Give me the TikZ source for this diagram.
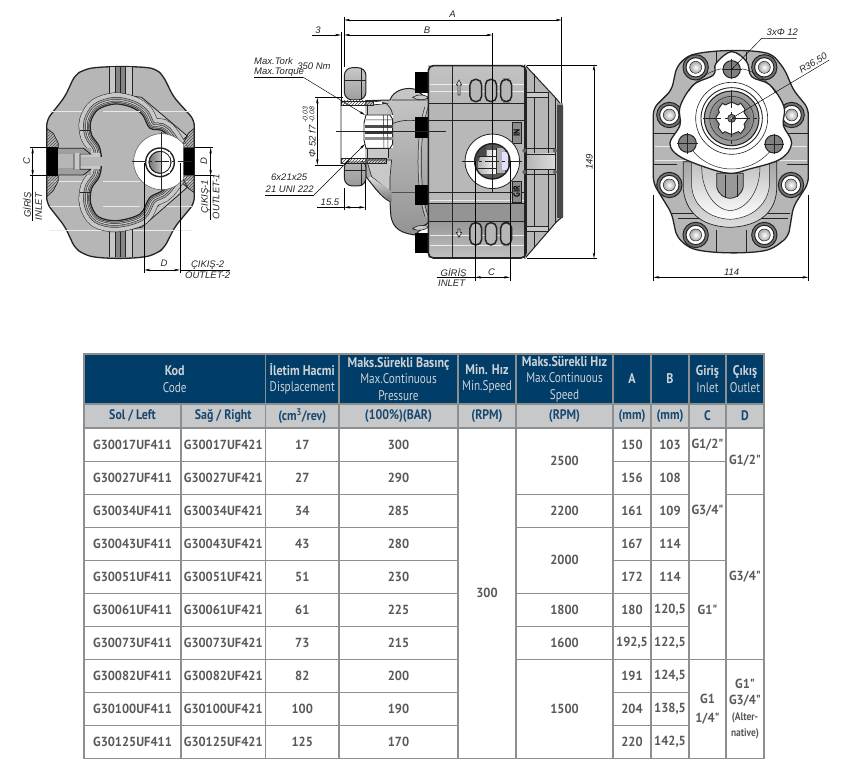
\documentclass[tikz,border=0pt]{standalone}
\usepackage{fontspec}
\usetikzlibrary{arrows.meta,patterns,calc}
\setmainfont{Liberation Sans}
\newfontfamily\din[FakeStretch=.86]{PT Sans}
\newfontfamily\dinn[FakeStretch=.8]{PT Sans}
\newfontfamily\dind[FakeStretch=.95]{PT Sans}
\definecolor{hdblue}{RGB}{0,61,104}
\definecolor{subgrey}{RGB}{198,200,202}
\definecolor{subtxt}{RGB}{24,72,112}
\definecolor{hdtxt}{RGB}{205,210,214}
\definecolor{datatxt}{RGB}{88,89,91}
\definecolor{rule}{RGB}{140,142,144}
\definecolor{body}{RGB}{182,182,182}
\definecolor{bodyl}{RGB}{200,200,200}
\definecolor{bodyd}{RGB}{150,150,150}
\definecolor{ink}{RGB}{35,35,35}
\newcommand{\lt}{\dinn\mdseries}
\tikzset{
  >={Stealth[length=6pt,width=2.4pt]},
  dim/.style={draw=black,line width=.45pt},
  dimtxt/.style={font=\fontsize{9.5}{10}\selectfont\itshape,inner sep=0pt,text=black!85},
  outl/.style={draw=ink,line width=1pt},
  cellbase/.style={inner sep=0pt,outer sep=0pt,align=center,draw=rule,line width=1.1pt},
  headbold/.style={cellbase,fill=hdblue,text=hdtxt,font=\din\bfseries\fontsize{14}{16.6}\selectfont},
  subcell/.style={cellbase,fill=subgrey,text=subtxt,font=\din\bfseries\fontsize{13.8}{15}\selectfont},
  datacell/.style={cellbase,fill=white,text=datatxt,font=\dind\bfseries\fontsize{13.2}{16}\selectfont},
  smallcell/.style={cellbase,fill=white,text=datatxt,font=\dind\bfseries\fontsize{13.2}{19}\selectfont},
}
\newcommand{\tcell}[7]{%
  \pgfmathsetmacro\cw{#5-#3}\pgfmathsetmacro\ch{#6-#4}%
  \node[#1,minimum width=\cw pt,minimum height=\ch pt] (#2) at ({(#3+#5)/2},{(#4+#6)/2}) {#7};}
\newcommand{\boltd}[2]{%
  \fill[black!55] (#1,#2) circle (38);
  \draw[ink,line width=1pt] (#1,#2) circle (38);
  \fill[white,draw=ink,line width=1pt] (#1,#2) circle (29);
  \shade[inner color=white,outer color=black!35,draw=ink,line width=.5pt] (#1,#2) circle (18);}
\newcommand{\slotd}[4]{\draw[ink,line width=1.5pt,fill=body,rounded corners=5.5pt] (#1,#3) rectangle (#2,#4);}
\begin{document}
\begin{tikzpicture}[x=1pt,y=-1pt]
\useasboundingbox (0,0) rectangle (862,772);
\fill[white] (0,0) rectangle (862,772);

%% ------------ LEFT VIEW (coordinates = 3x zoom)
\begin{scope}[x=.3333pt,y=-.3333pt]
  \path[fill=body,outl,line width=1.3pt,rounded corners=6pt,line join=round]
    (250,210) .. controls (300,198) and (420,198) .. (470,208) -- (490,228) -- (520,290) -- (583,360) -- (583,610) -- (525,680) -- (492,745) -- (470,760)
    .. controls (420,778) and (300,778) .. (250,762) -- (225,745) -- (195,680) -- (140,610) -- (140,360) -- (195,290) -- (225,225) -- cycle;
  \foreach \yy in {333,545,620,690} \draw[white!70!body,line width=.6pt] (150,\yy) -- (575,\yy);
  % ribs
  \foreach \ya/\yb in {200/292,684/772}{
    \fill[bodyl] (328,\ya) rectangle (398,\yb);
    \fill[black!48] (347,\ya) rectangle (377,\yb);
    \draw[ink,line width=.7pt] (328,\ya) -- (328,\yb) (347,\ya) -- (347,\yb) (362,\ya) -- (362,\yb) (377,\ya) -- (377,\yb) (398,\ya) -- (398,\yb);
  }
  % diagonal bands
  \draw[ink,line width=.8pt,fill=bodyl,line join=round] (395,288) -- (425,292) -- (562,408) -- (548,420) -- (450,340) -- cycle;
  \draw[ink,line width=.8pt,fill=bodyl,line join=round] (390,688) -- (425,682) -- (562,562) -- (548,550) -- (450,640) -- cycle;
  % bean, concentric strokes
  \def\beanpath{plot[smooth cycle,tension=.55] coordinates {(345,312) (295,328) (272,365) (275,405) (298,440) (305,485) (298,530) (275,565) (272,610) (295,650) (350,662) (420,642) (450,592) (495,565) (540,485) (495,398) (450,385) (428,345) (395,322)}}
  \draw[ink,line width=23pt] \beanpath;
  \draw[bodyl,line width=22pt] \beanpath;
  \draw[ink,line width=14pt] \beanpath;
  \draw[black!35,line width=13pt] \beanpath;
  \draw[ink,line width=10pt] \beanpath;
  \draw[bodyl,line width=9pt] \beanpath;
  \draw[ink,line width=6.4pt] \beanpath;
  \draw[black!30,line width=5.4pt] \beanpath;
  \draw[ink,line width=3.6pt] \beanpath;
  \draw[black!42,line width=2.6pt] \beanpath;
  \draw[ink,line width=1.2pt,fill=body] \beanpath;
  \foreach \yy in {333,545,620} \draw[white!70!body,line width=.6pt] (310,\yy) -- (420,\yy);
  % inlet channel
  \fill[black!38] (172,445) rectangle (272,525);
  \fill[body] (172,462) rectangle (240,505);
  \fill[bodyl] (222,460) rectangle (300,508);
  \fill[body] (240,470) rectangle (310,498);
  \draw[ink,line width=.8pt] (172,445) -- (250,445) -- (272,462) -- (240,462) (172,525) -- (250,525) -- (272,508) -- (240,508) (222,460) -- (222,508) (240,462) -- (240,508);
  \draw[ink,line width=.6pt] (240,392) -- (272,392) (240,578) -- (272,578);
  % hatched wedges and black ports
  \path[pattern=north east lines,pattern color=black!70,draw=ink,line width=.7pt] (140,385) -- (160,400) -- (175,430) -- (175,443) -- (140,443) -- cycle;
  \path[pattern=north east lines,pattern color=black!70,draw=ink,line width=.7pt] (140,590) -- (160,572) -- (175,542) -- (175,527) -- (140,527) -- cycle;
  \path[pattern=north east lines,pattern color=black!70,draw=ink,line width=.7pt] (583,385) -- (565,400) -- (550,430) -- (550,443) -- (583,443) -- cycle;
  \path[pattern=north east lines,pattern color=black!70,draw=ink,line width=.7pt] (583,578) -- (565,565) -- (550,540) -- (550,527) -- (583,527) -- cycle;
  \fill[black] (140,445) rectangle (175,525);
  \fill[black] (550,445) rectangle (583,525);
  % port circle
  \begin{scope}
    \clip (395,380) rectangle (550,590);
    \fill[white] (485,485) circle (84);
    \draw[black!60,line width=.6pt] (485,485) circle (84);
  \end{scope}
  \draw[ink,line width=1.4pt] (480,487) circle (43);
  \shade[left color=black!55,right color=white,draw=ink,line width=.8pt] (480,487) circle (33);
  \fill[white] (482,456) rectangle (510,518);
  \draw[ink,line width=.8pt] (480,487) circle (33);
  \draw[ink,line width=.7pt] (485,395) -- (485,570);
  \draw[ink,line width=.7pt,dash pattern=on 14pt off 3pt on 3pt off 3pt] (395,485) -- (575,485);
  % dimensions
  \draw[dim] (90,443) -- (175,443) (90,527) -- (175,527) (585,443) -- (638,443) (585,527) -- (638,527);
  \draw[dim,<->] (98,443) -- (98,527);
  \draw[dim] (98,527) -- (98,662);
  \draw[dim,<->] (632,443) -- (632,527);
  \draw[dim] (632,527) -- (632,660);
  \draw[dim] (433,490) -- (433,818) (540,490) -- (540,818);
  \draw[dim,<->] (433,810) -- (540,810);
  \draw[dim] (540,810) -- (690,810);
  \node[dimtxt,rotate=90] (dimCl) at (80,483) {C};
  \node[dimtxt,rotate=90] (girisL) at (84,615) {GİRİŞ};
  \node[dimtxt,rotate=90] (inletL) at (116,620) {INLET};
  \node[dimtxt,rotate=90] (dimDr) at (612,483) {D};
  \node[dimtxt,rotate=90] (cikisA) at (617,590) {ÇIKIŞ-1};
  \node[dimtxt,rotate=90] (outletA) at (648,590) {OUTLET-1};
  \node[dimtxt] (dimDb) at (492,790) {D};
  \node[dimtxt] (cikisB) at (623,795) {ÇIKIŞ-2};
  \node[dimtxt] (outletB) at (623,826) {OUTLET-2};
\end{scope}

%% ------------ MIDDLE VIEW
\begin{scope}[shift={(240,0)},x=.3333pt,y=-.3333pt]
  % cone
  \path[fill=body,outl,line join=round] (855,195) -- (950,297) -- (968,320) -- (968,650) -- (950,665) -- (855,775) -- cycle;
  \fill[bodyd] (950,310) rectangle (968,655);
  \fill[black!72] (952,315) rectangle (968,655);
  \draw[ink,line width=.5pt] (882,222) -- (882,745) (925,275) -- (925,695) (945,295) -- (945,670);
  \fill[bodyl] (860,278) rectangle (925,292);
  \fill[bodyl] (860,680) rectangle (925,694);
  \draw[ink,line width=.5pt] (860,278) rectangle (925,292) (860,680) rectangle (925,694);
  \shade[left color=body,right color=black!14] (860,462) rectangle (945,508);
  \draw[ink,line width=.7pt] (855,445) -- (945,445) (855,462) -- (945,462) -- (945,508) -- (855,508) (855,523) -- (945,523);
  % neck
  \path[top color=bodyl,bottom color=black!42,outl,line join=round] (378,302) -- (450,300) .. controls (460,270) and (500,260) .. (525,268) -- (568,300) -- (568,665) -- (525,705) .. controls (490,700) and (455,690) .. (452,640) -- (450,605) .. controls (420,590) and (395,550) .. (378,530) -- cycle;
  \path[fill=bodyl,draw=ink,line width=.6pt] (380,480) -- (455,480) -- (450,530) -- (450,575) -- (395,530) -- cycle;
  \shade[top color=white!60!body,bottom color=black!55] (385,535) .. controls (400,555) and (430,590) .. (455,605) -- (455,575) -- (392,530) -- cycle;
  \draw[ink,line width=.6pt] (455,578) -- (565,578) (455,372) .. controls (480,360) and (510,360) .. (525,362) (455,300) -- (560,300) (520,690) -- (565,670);
  \draw[bodyl,line width=1pt] (560,320) .. controls (530,400) and (530,570) .. (560,650);
  \draw[ink,line width=.5pt] (555,320) .. controls (527,400) and (527,570) .. (555,650) (565,320) .. controls (537,400) and (537,570) .. (565,650);
  % black blocks
  \foreach \ya/\yb in {215/280,352/415,555/615,700/760} \fill[black] (525,\ya) rectangle (565,\yb);
  % lens tips next to the blocks
  \path[fill=bodyl,draw=ink,line width=.6pt] (518,292) .. controls (535,280) and (555,285) .. (566,292) .. controls (555,302) and (530,302) .. (518,292) -- cycle;
  \path[fill=bodyl,draw=ink,line width=.6pt] (518,685) .. controls (535,673) and (555,675) .. (566,680) .. controls (555,692) and (530,695) .. (518,685) -- cycle;
  % main body
  \fill[body] (565,195) rectangle (858,775);
  \shade[top color=black!24,bottom color=black!28] (565,198) rectangle (858,310);
  \fill[bodyl!92!black] (565,360) rectangle (858,600);
  \fill[black!42] (565,612) rectangle (858,665);
  \shade[top color=black!40,bottom color=black!25] (565,665) rectangle (858,772);
  \foreach \yy in {252,275,600,705,735} \draw[white!75!body,line width=.6pt] (570,\yy) -- (855,\yy);
  \draw[ink,line width=.5pt] (565,310) -- (858,310) (565,360) -- (858,360) (565,578) -- (858,578) (565,610) -- (858,610) (565,665) -- (858,665) (637,195) -- (637,775) (853,195) -- (853,775);
  \path[outl,line width=1.6pt,rounded corners=5pt] (565,197) rectangle (858,774);
  % slots and arrows
  \foreach \xa/\xb in {690/725,736/770,782/815}{
    \slotd{\xa}{\xb}{238}{305}
    \slotd{\xa}{\xb}{668}{735}
  }
  \draw[ink,line width=.6pt,fill=black!12] (657,240) -- (665,255) -- (660,255) -- (660,285) -- (654,285) -- (654,255) -- (649,255) -- cycle;
  \draw[ink,line width=.6pt,fill=black!12] (657,712) -- (665,697) -- (660,697) -- (660,687) -- (654,687) -- (654,697) -- (649,697) -- cycle;
  % label plates
  \node[draw=ink,line width=.5pt,fill=black!45,minimum width=21pt,minimum height=9pt,inner sep=0pt,rotate=90,font=\din\bfseries\fontsize{9}{9}\selectfont] (plateIN) at (830,398) {IN};
  \node[draw=ink,line width=.5pt,fill=black!45,minimum width=21pt,minimum height=9pt,inner sep=0pt,rotate=90,font=\din\bfseries\fontsize{9}{9}\selectfont] (plateGIR) at (830,575) {GIR};
  % small bolts on the joint
  \foreach \yy in {452,516} {\fill[black!60] (853,\yy) circle (6); \fill[black!60] (945,\yy) circle (6);}
  % flange
  \path[top color=bodyl,bottom color=black!38,outl,rounded corners=8pt] (313,203) -- (378,203) -- (378,300) -- (313,300) -- cycle;
  \path[top color=black!28,bottom color=black!40,outl,rounded corners=8pt] (313,480) -- (378,480) -- (378,558) -- (313,558) -- cycle;
  \draw[ink,line width=.4pt] (365,203) -- (365,300) (365,490) -- (365,558) (313,510) -- (378,510) (313,240) -- (378,240);
  % bore
  \fill[white] (303,300) rectangle (376,482);
  \fill[bodyl] (376,315) rectangle (445,475);
  \path[pattern=north east lines,pattern color=black!75,draw=ink,line width=.7pt] (303,303) -- (400,303) -- (400,315) -- (303,315) -- cycle;
  \draw[ink,line width=.7pt] (400,303) -- (440,310) -- (400,315);
  \fill[white] (402,306) rectangle (425,313);
  \path[pattern=north east lines,pattern color=black!75,draw=ink,line width=.7pt] (303,475) -- (440,475) -- (440,490) -- (303,490) -- cycle;
  \draw[ink,line width=.7pt] (440,312) .. controls (455,325) and (458,340) .. (458,350) (303,300) -- (303,492);
  \draw[ink,line width=.5pt] (382,315) -- (382,345) (382,445) -- (382,475) (445,445) -- (445,475);
  % shaft
  \fill[white] (375,345) rectangle (458,445);
  \draw[ink,line width=.9pt] (378,345) -- (450,345) -- (458,358) -- (458,432) -- (450,445) -- (378,445) -- (372,420) -- (372,370) -- cycle;
  \fill[black!70] (376,374) rectangle (458,384);
  \fill[black!78] (376,392) rectangle (458,402);
  \fill[black!45] (376,412) rectangle (458,420);
  \draw[ink,line width=.5pt] (378,360) -- (458,360) (430,345) -- (432,445) (442,345) -- (444,445);
  % port circle
  \fill[white,draw=ink,line width=.8pt] (757,484) circle (82);
  \fill[black!65] (757,484) circle (53);
  \shade[left color=black!30,right color=white] (715,452) rectangle (770,520);
  \fill[black!72] (705,484) arc[start angle=180,end angle=250,radius=52] -- (740,470) -- (720,470) -- (716,484) -- cycle;
  \fill[black!30] (770,445) rectangle (795,520);
  \fill[blue!12] (785,455) rectangle (803,510);
  \draw[ink,line width=.7pt] (770,445) -- (770,522) (715,505) -- (770,505) (715,470) -- (770,470);
  \draw[ink,line width=1.4pt] (757,484) circle (53);
  \draw[ink,line width=.5pt,dash pattern=on 14pt off 3pt on 3pt off 3pt] (665,484) -- (850,484);
  \draw[ink,line width=.5pt] (757,405) -- (757,575);
  % long centre line
  \draw[ink,line width=.5pt] (288,393) -- (618,393);
  % dimensions
  \draw[dim] (313,50) -- (313,200) (965,50) -- (965,310) (303,95) -- (303,300) (757,100) -- (757,405);
  \draw[dim,<->] (313,60) -- (965,60);
  \draw[dim,<->] (313,105) -- (757,105);
  \draw[dim,->] (215,105) -- (303,105);
  \draw[dim] (225,293) -- (310,293) (225,495) -- (310,495);
  \draw[dim,<->] (232,293) -- (232,495);
  \draw[dim] (313,565) -- (313,630) (375,540) -- (375,630);
  \draw[dim] (232,622) -- (313,622);
  \draw[dim,<->] (313,622) -- (375,622);
  \draw[dim] (860,195) -- (1072,195) (860,775) -- (1072,775);
  \draw[dim,<->] (1062,195) -- (1062,775);
  \draw[dim] (705,484) -- (705,842) (810,484) -- (810,842);
  \draw[dim] (590,832) -- (705,832);
  \draw[dim,<->] (705,832) -- (810,832);
  \draw[dim] (42,232) -- (190,232);
  \draw[dim,->] (190,232) -- (375,345);
  \draw[dim] (75,585) -- (222,585);
  \draw[dim,->] (222,585) -- (375,432);
  \node[dimtxt] (dimA) at (638,42) {A};
  \node[dimtxt] (dimB) at (561,90) {B};
  \node[dimtxt] (dimThree) at (234,90) {3};
  \node[dimtxt,anchor=west] (tork) at (42,182) {Max.Tork};
  \node[dimtxt,anchor=west] (torque) at (42,218) {Max.Torque};
  \node[dimtxt] (nm) at (222,200) {350 Nm};
  \node[dimtxt,anchor=east] (spla) at (202,532) {6x21x25};
  \node[dimtxt,anchor=east] (splb) at (222,569) {21 UNI 222};
  \node[dimtxt] (dimFifteen) at (270,608) {15.5};
  \node[dimtxt,rotate=90] (dimDia) at (217,424) {Φ 52 f7};
  \node[dimtxt,rotate=90,font=\fontsize{7}{8}\selectfont\itshape] (tolA) at (196,345) {-0.03};
  \node[dimtxt,rotate=90,font=\fontsize{7}{8}\selectfont\itshape] (tolB) at (216,345) {-0.08};
  \node[dimtxt,rotate=90] (dimH) at (1048,485) {149};
  \node[dimtxt] (dimC) at (755,818) {C};
  \node[dimtxt] (girisM) at (641,820) {GİRİŞ};
  \node[dimtxt] (inletM) at (635,851) {INLET};
\end{scope}

%% ------------ RIGHT VIEW
\begin{scope}[shift={(630,10)},x=.3333pt,y=-.3333pt]
  \path[fill=body,outl,line width=1.3pt,rounded corners=6pt,line join=round]
    (172,138) .. controls (250,118) and (370,118) .. (430,135) -- (465,180) -- (490,240) -- (535,295) -- (535,520) -- (490,590) -- (475,680) -- (430,715)
    .. controls (370,732) and (240,732) .. (175,712) -- (140,680) -- (125,610) -- (70,520) -- (70,295) -- (125,240) -- (140,170) -- cycle;
  \foreach \yy in {410,450} \draw[white!70!body,line width=.6pt] (75,\yy) -- (530,\yy);
  \draw[ink,line width=.5pt] (70,370) -- (150,370) (460,370) -- (535,370) (125,610) -- (480,610) (145,625) -- (475,625) (70,462) -- (140,462) (470,462) -- (535,462) (258,660) -- (258,725) (348,660) -- (348,725) (258,125) -- (258,170) (348,125) -- (348,170);
  % bowl
  \path[draw=ink,line width=.7pt,top color=black!35,bottom color=white!55!body] (160,455) -- (440,455) -- (440,540) .. controls (435,620) and (370,650) .. (300,652) .. controls (230,650) and (170,620) .. (160,540) -- cycle;
  \path[draw=ink,line width=.5pt,top color=black!25,bottom color=white] (185,455) -- (418,455) -- (418,530) .. controls (410,590) and (360,625) .. (300,628) .. controls (240,625) and (190,590) .. (185,530) -- cycle;
  \draw[ink,line width=.5pt] (215,470) .. controls (215,550) and (260,600) .. (300,602) .. controls (345,600) and (390,550) .. (390,470);
  \path[draw=ink,line width=.8pt,fill=black!40] (260,490) -- (340,490) -- (340,530) .. controls (335,555) and (315,565) .. (300,565) .. controls (285,565) and (265,555) .. (260,530) -- cycle;
  \draw[ink,line width=.6pt] (285,495) -- (285,562) (322,495) -- (322,562);
  % bolts
  \boltd{197}{172} \boltd{403}{172} \boltd{118}{315} \boltd{485}{315}
  \boltd{118}{525} \boltd{483}{525} \boltd{197}{675} \boltd{403}{675}
  % flange
  \path[fill=white,draw=ink,line width=1.3pt,line join=round] plot[smooth cycle,tension=.6] coordinates {(305,125) (258,160) (250,195) (190,225) (150,290) (150,345) (120,400) (150,440) (245,478) (305,490) (355,478) (450,448) (485,400) (460,345) (462,290) (420,225) (365,200) (350,155)};
  % bolt circle
  \draw[ink,line width=.5pt] (305,325) ++(40:152) arc[start angle=40,end angle=140,radius=152];
  \draw[ink,line width=.5pt] (305,325) ++(212:152) arc[start angle=212,end angle=258,radius=152];
  \draw[ink,line width=.5pt] (305,325) ++(282:152) arc[start angle=282,end angle=330,radius=152];
  % centre
  \draw[ink,line width=.6pt] (305,325) circle (108);
  \draw[ink,line width=.9pt] (305,325) circle (92);
  \shade[inner color=black!70,outer color=black!35,draw=ink,line width=1.1pt] (305,325) circle (82);
  \draw[ink,line width=.5pt] (305,325) circle (66);
  \fill[white,draw=ink,line width=.9pt] plot[smooth cycle,tension=.3] coordinates {(305,277) (325,285) (332,280) (345,298) (342,307) (353,325) (342,343) (345,352) (332,370) (325,365) (305,373) (285,365) (278,370) (265,352) (268,343) (257,325) (268,307) (265,298) (278,280) (285,285)};
  \fill[black!55,draw=ink,line width=.7pt] (305,325) circle (12);
  \fill[black!20] (305,325) circle (4);
  \draw[ink,line width=.6pt,dash pattern=on 18pt off 4pt on 3pt off 4pt] (220,325) -- (390,325) (305,240) -- (305,410);
  % holes
  \foreach \hx/\hy/\hr in {305/178/26,172/400/27,432/402/27}{
    \fill[black!50,draw=ink,line width=1pt] (\hx,\hy) circle (\hr);
    \draw[ink,line width=.5pt] ({\hx-\hr-4},\hy) -- ({\hx+\hr+4},\hy) (\hx,{\hy-\hr-4}) -- (\hx,{\hy+\hr+4});
  }
  % dimensions
  \draw[dim] (70,555) -- (70,812) (535,555) -- (535,812);
  \draw[dim,<->] (70,802) -- (535,802);
  \draw[dim] (305,178) -- (395,85) -- (500,85);
  \draw[dim] (305,325) -- (598,150);
  \node[dimtxt] (dimW) at (305,788) {114};
  \node[dimtxt] (holes) at (457,68) {3xΦ 12};
  \node[dimtxt,rotate=31] (radius) at (550,160) {R36,50};
\end{scope}

%% ------------ TABLE
\tcell{headbold}{hKod}{84}{354}{265.5}{404}{Kod\\\lt Code}
\tcell{headbold}{hDisp}{265.5}{354}{339}{404}{İletim Hacmi\\\lt Displacement}
\tcell{headbold}{hPres}{339}{354}{458}{404}{Maks.Sürekli Basınç\\\lt Max.Continuous\\\lt Pressure}
\tcell{headbold}{hMin}{458}{354}{516}{404}{Min. Hız\\\lt Min.Speed}
\tcell{headbold}{hMax}{516}{354}{613}{404}{Maks.Sürekli Hız\\\lt Max.Continuous\\\lt Speed}
\tcell{headbold}{hA}{613}{354}{651}{404}{A}
\tcell{headbold}{hB}{651}{354}{689}{404}{B}
\tcell{headbold}{hC}{689}{354}{726}{404}{Giriş\\\lt Inlet}
\tcell{headbold}{hD}{726}{354}{764}{404}{Çıkış\\\lt Outlet}
\tcell{subcell}{sL}{84}{404}{181}{428}{Sol / Left}
\tcell{subcell}{sR}{181}{404}{265.5}{428}{Sağ / Right}
\tcell{subcell}{sDisp}{265.5}{404}{339}{428}{(cm\textsuperscript{3}/rev)}
\tcell{subcell}{sPres}{339}{404}{458}{428}{(100\%)(BAR)}
\tcell{subcell}{sMin}{458}{404}{516}{428}{(RPM)}
\tcell{subcell}{sMax}{516}{404}{613}{428}{(RPM)}
\tcell{subcell}{sA}{613}{404}{651}{428}{(mm)}
\tcell{subcell}{sB}{651}{404}{689}{428}{(mm)}
\tcell{subcell}{sC}{689}{404}{726}{428}{C}
\tcell{subcell}{sD}{726}{404}{764}{428}{D}
\foreach \code/\disp/\pres/\valA/\valB [count=\i from 0] in {
  017/17/300/150/103,027/27/290/156/108,034/34/285/161/109,043/43/280/167/114,051/51/230/172/114,
  061/61/225/180/{120,5},073/73/215/{192,5}/{122,5},082/82/200/191/{124,5},100/100/190/204/{138,5},125/125/170/220/{142,5}}{
  \pgfmathsetmacro\ya{428+33.05*\i}
  \pgfmathsetmacro\yb{428+33.05*(\i+1)}
  \tcell{datacell}{cL\i}{84}{\ya}{181}{\yb}{G30\code UF411}
  \tcell{datacell}{cR\i}{181}{\ya}{265.5}{\yb}{G30\code UF421}
  \tcell{datacell}{cV\i}{265.5}{\ya}{339}{\yb}{\disp}
  \tcell{datacell}{cP\i}{339}{\ya}{458}{\yb}{\pres}
  \tcell{datacell}{cA\i}{613}{\ya}{651}{\yb}{\valA}
  \tcell{datacell}{cB\i}{651}{\ya}{689}{\yb}{\valB}
}
\tcell{datacell}{minSp}{458}{428}{516}{758.5}{300}
\tcell{datacell}{mxA}{516}{428}{613}{494.1}{2500}
\tcell{datacell}{mxB}{516}{494.1}{613}{527.15}{2200}
\tcell{datacell}{mxC}{516}{527.15}{613}{593.25}{2000}
\tcell{datacell}{mxD}{516}{593.25}{613}{626.3}{1800}
\tcell{datacell}{mxE}{516}{626.3}{613}{659.35}{1600}
\tcell{datacell}{mxF}{516}{659.35}{613}{758.5}{1500}
\tcell{datacell}{inA}{689}{428}{726}{461.05}{G1/2"}
\tcell{datacell}{inB}{689}{461.05}{726}{560.2}{G3/4"}
\tcell{datacell}{inC}{689}{560.2}{726}{659.35}{G1"}
\tcell{smallcell}{inD}{689}{659.35}{726}{758.5}{G1\\1/4"}
\tcell{datacell}{outA}{726}{428}{764}{494.1}{G1/2"}
\tcell{datacell}{outB}{726}{494.1}{764}{659.35}{G3/4"}
\tcell{datacell}{outC}{726}{659.35}{764}{758.5}{G1"\\G3/4"\\\din\fontsize{11}{12.5}\selectfont (Alter-\\\din\fontsize{11}{12.5}\selectfont native)}
\end{tikzpicture}
\end{document}
